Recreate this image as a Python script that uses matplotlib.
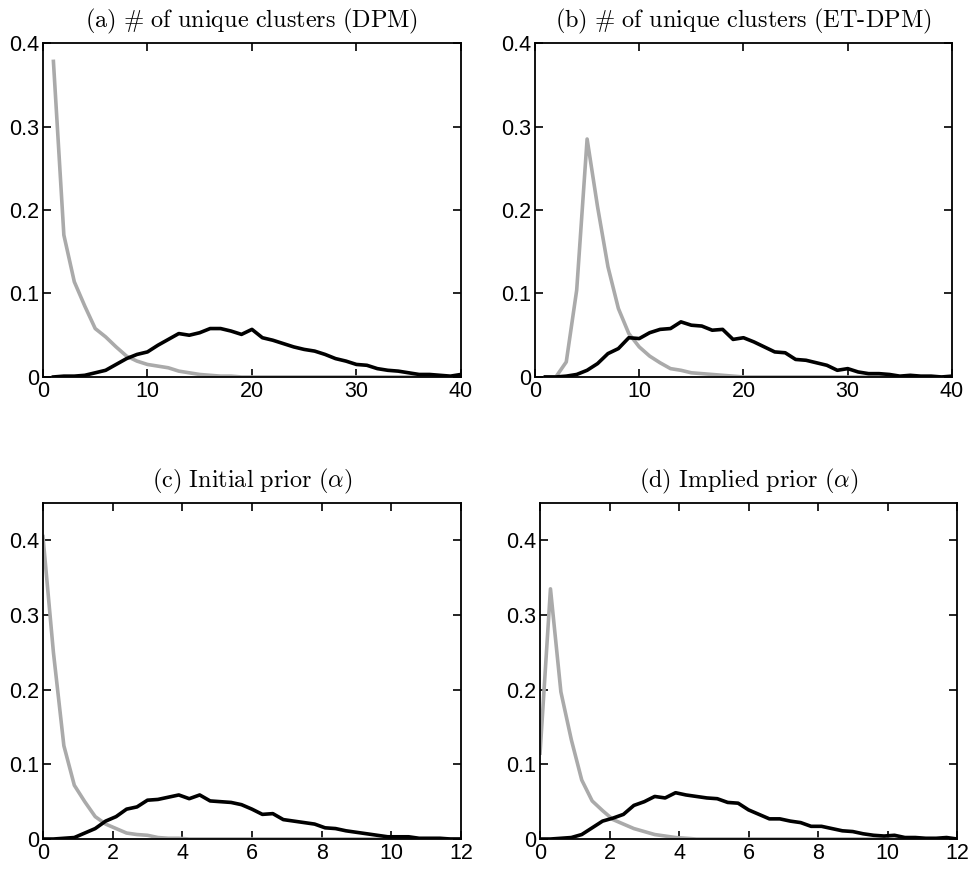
import numpy as np
import matplotlib
matplotlib.use("Agg")
import matplotlib.pyplot as plt

plt.rcParams['font.family'] = ['Liberation Sans', 'DejaVu Sans']
plt.rcParams['mathtext.fontset'] = 'cm'

# number of unique clusters (1..40)
k = np.arange(1, 41)
dpm_prior = [0.378, 0.170, 0.114, 0.085, 0.058, 0.048, 0.036, 0.025, 0.019, 0.015,
             0.013, 0.011, 0.007, 0.005, 0.003, 0.002, 0.001, 0.001, 0.0, 0.0,
             0.0, 0.0, 0.0, 0.0, 0.0, 0.0, 0.0, 0.0, 0.0, 0.0,
             0.0, 0.0, 0.0, 0.0, 0.0, 0.0, 0.0, 0.0, 0.0, 0.0]
dpm_post = [0.0, 0.001, 0.001, 0.002, 0.005, 0.008, 0.015, 0.022, 0.027, 0.030,
            0.038, 0.045, 0.052, 0.050, 0.053, 0.058, 0.058, 0.055, 0.051, 0.057,
            0.047, 0.044, 0.040, 0.036, 0.033, 0.031, 0.027, 0.022, 0.019, 0.015,
            0.014, 0.010, 0.008, 0.007, 0.005, 0.003, 0.003, 0.002, 0.001, 0.003]
et_prior = [0.0, 0.0, 0.018, 0.104, 0.285, 0.204, 0.132, 0.082, 0.052, 0.036,
            0.025, 0.017, 0.010, 0.008, 0.005, 0.004, 0.003, 0.002, 0.001, 0.0,
            0.0, 0.0, 0.0, 0.0, 0.0, 0.0, 0.0, 0.0, 0.0, 0.0,
            0.0, 0.0, 0.0, 0.0, 0.0, 0.0, 0.0, 0.0, 0.0, 0.0]
et_post = [0.0, 0.0, 0.001, 0.003, 0.008, 0.016, 0.028, 0.034, 0.047, 0.046,
           0.053, 0.057, 0.058, 0.066, 0.062, 0.061, 0.056, 0.057, 0.045, 0.047,
           0.042, 0.036, 0.030, 0.029, 0.021, 0.020, 0.017, 0.014, 0.008, 0.010,
           0.006, 0.004, 0.004, 0.003, 0.001, 0.002, 0.001, 0.001, 0.0, 0.001]

# concentration parameter alpha grid
alpha = np.arange(41) * 0.3
init_prior = [0.405, 0.250, 0.125, 0.072, 0.050, 0.030, 0.020, 0.014, 0.008, 0.006,
              0.005, 0.002, 0.001, 0.001, 0.0, 0.0, 0.0, 0.0, 0.0, 0.0,
              0.0, 0.0, 0.0, 0.0, 0.0, 0.0, 0.0, 0.0, 0.0, 0.0,
              0.0, 0.0, 0.0, 0.0, 0.0, 0.0, 0.0, 0.0, 0.0, 0.0, 0.0]
init_post = [0.0, 0.0, 0.001, 0.002, 0.008, 0.014, 0.024, 0.030, 0.040, 0.043,
             0.052, 0.053, 0.056, 0.059, 0.054, 0.059, 0.051, 0.050, 0.049, 0.046,
             0.040, 0.033, 0.034, 0.026, 0.024, 0.022, 0.020, 0.015, 0.014, 0.011,
             0.009, 0.007, 0.005, 0.003, 0.003, 0.003, 0.001, 0.001, 0.001, 0.0, 0.0]
impl_prior = [0.115, 0.335, 0.197, 0.133, 0.079, 0.051, 0.038, 0.026, 0.020, 0.014,
              0.010, 0.006, 0.004, 0.002, 0.001, 0.0, 0.0, 0.0, 0.0, 0.0,
              0.0, 0.0, 0.0, 0.0, 0.0, 0.0, 0.0, 0.0, 0.0, 0.0,
              0.0, 0.0, 0.0, 0.0, 0.0, 0.0, 0.0, 0.0, 0.0, 0.0, 0.0]
impl_post = [0.0, 0.0, 0.001, 0.002, 0.006, 0.015, 0.024, 0.028, 0.033, 0.045,
             0.050, 0.057, 0.055, 0.062, 0.059, 0.057, 0.055, 0.054, 0.049, 0.048,
             0.039, 0.033, 0.027, 0.027, 0.024, 0.022, 0.017, 0.017, 0.014, 0.011,
             0.010, 0.007, 0.005, 0.004, 0.005, 0.002, 0.002, 0.001, 0.001, 0.002, 0.0]

gray = '#aaaaaa'
lw = 2.6

fig = plt.figure(figsize=(9.72, 8.69), dpi=100)
panels = [
    ([0.0442, 0.5662, 0.430, 0.3843], k, dpm_prior, dpm_post,
     r'$\mathrm{(a)\ \#\ of\ unique\ clusters\ (DPM)}$', (0, 40), (0, 0.4), [0, 10, 20, 30, 40]),
    ([0.5504, 0.5662, 0.429, 0.3843], k, et_prior, et_post,
     r'$\mathrm{(b)\ \#\ of\ unique\ clusters\ (ET\text{-}DPM)}$', (0, 40), (0, 0.4), [0, 10, 20, 30, 40]),
    ([0.0442, 0.0345, 0.430, 0.3867], alpha, init_prior, init_post,
     r'$\mathrm{(c)\ Initial\ prior\ (}\alpha\mathrm{)}$', (0, 12), (0, 0.45), [0, 2, 4, 6, 8, 10, 12]),
    ([0.5556, 0.0345, 0.429, 0.3867], alpha, impl_prior, impl_post,
     r'$\mathrm{(d)\ Implied\ prior\ (}\alpha\mathrm{)}$', (0, 12), (0, 0.45), [0, 2, 4, 6, 8, 10, 12]),
]

for rect, x, prior, post, title, xl, yl, xt in panels:
    ax = fig.add_axes(rect)
    ax.plot(x, prior, color=gray, lw=lw)
    ax.plot(x, post, color='black', lw=lw)
    ax.set_xlim(*xl)
    ax.set_ylim(*yl)
    ax.set_xticks(xt)
    ax.set_yticks([0, 0.1, 0.2, 0.3, 0.4])
    ax.set_yticklabels(['0', '0.1', '0.2', '0.3', '0.4'])
    ax.tick_params(direction='in', top=True, right=True, length=6, width=1.2,
                   labelsize=15.5, pad=3)
    for s in ax.spines.values():
        s.set_linewidth(1.3)
    ax.set_title(title, fontsize=17.5, pad=11)

fig.savefig('out.png', dpi=100)
